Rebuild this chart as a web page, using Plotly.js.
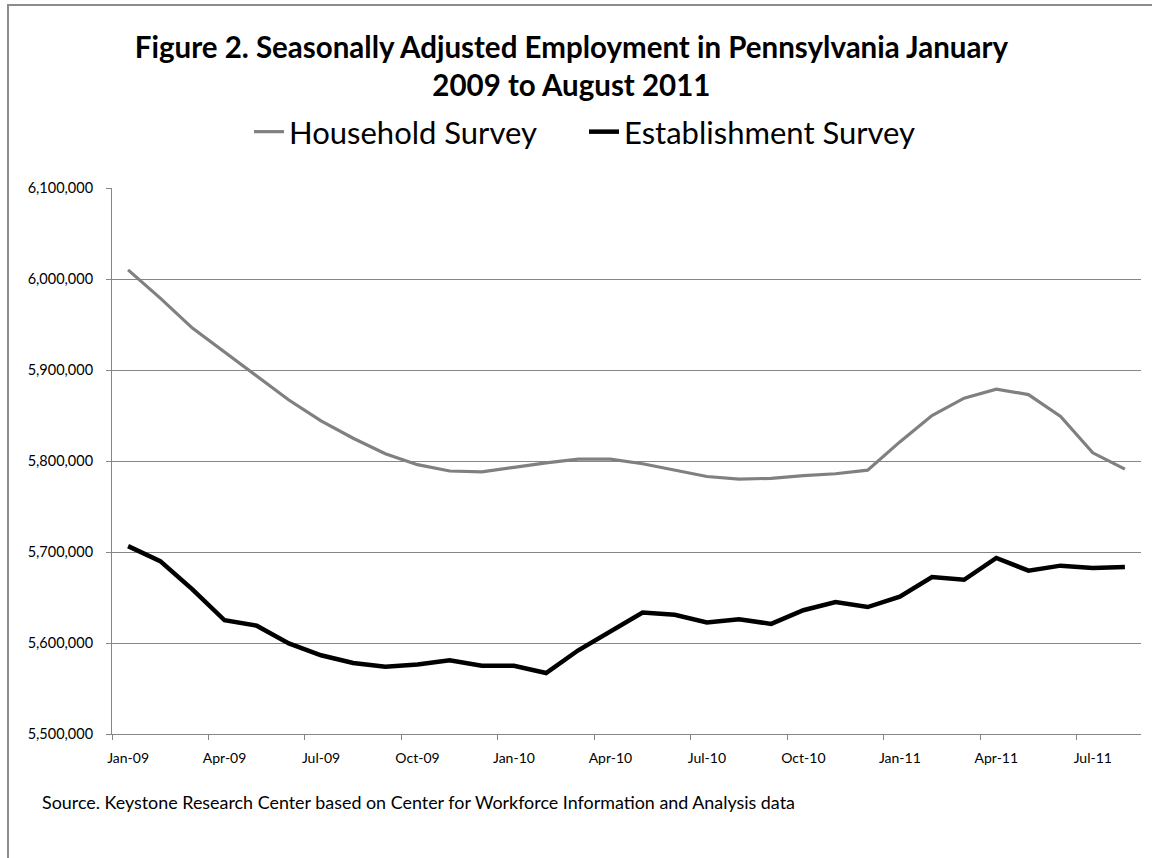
<!DOCTYPE html>
<html>
<head>
<meta charset="utf-8">
<script src="https://cdn.plot.ly/plotly-2.35.2.min.js"></script>
<style>
  html, body { margin: 0; padding: 0; background: #fff; overflow: hidden; }
  #wrap { position: relative; width: 1152px; height: 858px; overflow: hidden; }
  #chart { width: 1152px; height: 858px; }
  #frame { position: absolute; left: 7px; top: 4px; width: 1300px; height: 1000px;
           border-top: 2px solid #8c8c8c; border-left: 2px solid #8c8c8c; pointer-events: none; }
</style>
</head>
<body>
<div id="wrap"><div id="chart"></div><div id="frame"></div></div>
<script>
const months = [
  "Jan-09","Feb-09","Mar-09","Apr-09","May-09","Jun-09","Jul-09","Aug-09","Sep-09","Oct-09","Nov-09","Dec-09",
  "Jan-10","Feb-10","Mar-10","Apr-10","May-10","Jun-10","Jul-10","Aug-10","Sep-10","Oct-10","Nov-10","Dec-10",
  "Jan-11","Feb-11","Mar-11","Apr-11","May-11","Jun-11","Jul-11","Aug-11"
];
const householdSurvey = [
  6010000, 5979000, 5946000, 5920000, 5894000, 5867000, 5844000, 5825000, 5808000, 5796000, 5789000, 5788000,
  5793000, 5798000, 5802000, 5802000, 5797000, 5790000, 5783000, 5780000, 5781000, 5784000, 5786000, 5790000,
  5821000, 5850000, 5869000, 5879000, 5873000, 5849000, 5809000, 5791000
];
const establishmentSurvey = [
  5706500, 5690000, 5659000, 5625000, 5619000, 5599500, 5586500, 5578000, 5574000, 5576500, 5581000, 5575000,
  5575000, 5567000, 5592000, 5612500, 5633500, 5631000, 5622500, 5626000, 5621000, 5636000, 5645000, 5639500,
  5651000, 5672500, 5669500, 5693500, 5679500, 5685000, 5682500, 5683500
];
const tickLabels = ["Jan-09","Apr-09","Jul-09","Oct-09","Jan-10","Apr-10","Jul-10","Oct-10","Jan-11","Apr-11","Jul-11"];
const yTicks = [5500000, 5600000, 5700000, 5800000, 5900000, 6000000, 6100000];

const xIdx = months.map((m, i) => i);
const tickIdx = tickLabels.map(t => months.indexOf(t));
const bandEdges = tickIdx.map(i => i - 0.5);

const FONT = "Lato, 'Open Sans', sans-serif";

const traces = [
  {
    x: xIdx, y: householdSurvey, name: "Household Survey", type: "scatter", mode: "lines",
    line: { color: "#808080", width: 3.2 }, legend: "legend"
  },
  {
    x: xIdx, y: establishmentSurvey, name: "Establishment Survey", type: "scatter", mode: "lines",
    line: { color: "#000000", width: 4.5 }, legend: "legend2"
  }
];

const L = 112, R = 11, T = 188, B = 124, W = 1152, H = 858;
const pw = W - L - R, ph = H - T - B;
const px2x = p => (p - L) / pw;
const py2y = p => (H - B - p) / ph;

const legendFont = { family: FONT, size: 31, color: "#000" };

const layout = {
  width: W, height: H,
  margin: { l: L, r: R, t: T, b: B, pad: 0 },
  paper_bgcolor: "#ffffff", plot_bgcolor: "#ffffff",
  font: { family: FONT, color: "#000" },
  title: {
    text: "<b>Figure 2. Seasonally Adjusted Employment in Pennsylvania January<br>2009 to August 2011</b>",
    x: 0.496, xanchor: "center", yref: "container", y: 1 - 58 / H, yanchor: "top",
    font: { family: FONT, size: 29.5, color: "#000" }
  },
  showlegend: true,
  legend: {
    orientation: "h", x: px2x(249), xanchor: "left", y: py2y(132), yanchor: "middle",
    font: legendFont, itemwidth: 30, bgcolor: "rgba(0,0,0,0)"
  },
  legend2: {
    orientation: "h", x: px2x(584), xanchor: "left", y: py2y(132), yanchor: "middle",
    font: legendFont, itemwidth: 30, bgcolor: "rgba(0,0,0,0)"
  },
  xaxis: {
    range: [-0.5, months.length - 0.5],
    tickmode: "array", tickvals: tickIdx, ticktext: tickLabels,
    ticks: "", showgrid: false, zeroline: false,
    showline: true, linecolor: "#868686", linewidth: 1,
    ticklabelstandoff: 11,
    tickfont: { family: FONT, size: 14, color: "#000" },
    minor: { tickmode: "array", tickvals: bandEdges, ticks: "outside", ticklen: 5, tickcolor: "#868686", tickwidth: 1, showgrid: false },
    fixedrange: true
  },
  yaxis: {
    range: [5500000, 6100000],
    tickmode: "array", tickvals: yTicks, ticktext: yTicks.map(v => v.toLocaleString("en-US")),
    ticks: "outside", ticklen: 5, tickcolor: "#868686", tickwidth: 1,
    showgrid: true, gridcolor: "#868686", gridwidth: 1, zeroline: false,
    showline: true, linecolor: "#868686", linewidth: 1,
    ticklabelstandoff: 10,
    tickfont: { family: FONT, size: 14.5, color: "#000" },
    fixedrange: true
  },
  annotations: [
    { xref: "paper", yref: "paper", x: px2x(40), y: py2y(802), xanchor: "left", yanchor: "middle",
      text: "Source. Keystone Research Center based on Center for Workforce Information and Analysis data",
      showarrow: false, font: { family: FONT, size: 17.9, color: "#000" } }
  ]
};

Plotly.newPlot("chart", traces, layout, { staticPlot: true, displayModeBar: false });
</script>
</body>
</html>
